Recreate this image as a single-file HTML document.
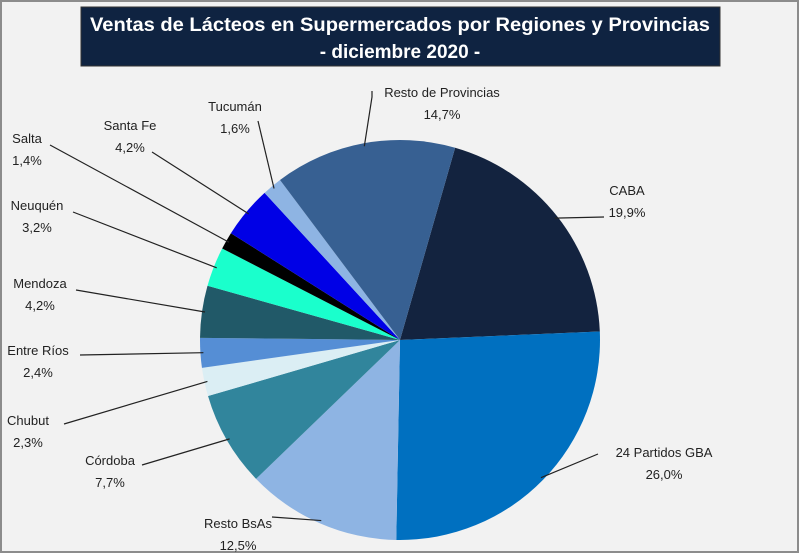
<!DOCTYPE html>
<html><head><meta charset="utf-8"><style>
body{margin:0;background:#fff}
svg{display:block;font-family:"Liberation Sans",Arial,sans-serif}
</style></head><body>
<svg id="c" width="800" height="554" viewBox="0 0 800 554">
<rect x="1" y="1" width="797" height="551" fill="#f2f2f2" stroke="#8c8c8c" stroke-width="2"/>
<rect x="81" y="7" width="639" height="59" fill="#0f2341" stroke="#333"/>
<text x="400" y="31" fill="#fff" font-size="19" font-weight="bold" text-anchor="middle" textLength="620" lengthAdjust="spacingAndGlyphs">Ventas de Lácteos en Supermercados por Regiones y Provincias</text>
<text x="400" y="58" fill="#fff" font-size="19" font-weight="bold" text-anchor="middle">- diciembre 2020 -</text>
<g id="slices"></g><g id="labels"></g>
</svg>
<script>
const categories=["CABA","24 Partidos GBA","Resto BsAs","Córdoba","Chubut","Entre Ríos","Mendoza","Neuquén","Salta","Santa Fe","Tucumán","Resto de Provincias"];
const values=[19.9,26.0,12.5,7.7,2.3,2.4,4.2,3.2,1.4,4.2,1.6,14.7];
const valueLabels=["19,9%","26,0%","12,5%","7,7%","2,3%","2,4%","4,2%","3,2%","1,4%","4,2%","1,6%","14,7%"];
const colors=["#13233f","#0070c0","#8eb4e3","#31859c","#dbeef4","#558ed5","#215968","#1affcc","#000000","#0000e6","#8eb4e3","#376092"];
// label layout: [text center x, first line baseline y, leader end x, leader end y]
const labelPos=[[627,195,604,217],[664,457,598,454],[238,528,272,517],[110,465,142,465],[28,425,64,424],[38,355,80,355],[40,288,76,290],[37,210,73,212],[27,143,50,145],[130,130,152,152],[235,111,258,121],[442,97,372,97]];
const cx=400,cy=340,R=200,start=16;
const ns="http://www.w3.org/2000/svg";
const total=values.reduce((a,b)=>a+b,0);
function pt(deg,r){const a=(deg-90)*Math.PI/180;return [cx+r*Math.cos(a),cy+r*Math.sin(a)];}
const gS=document.getElementById('slices'),gL=document.getElementById('labels');
let acc=start;
values.forEach((v,i)=>{
  const sweep=v/total*360,a0=acc,a1=acc+sweep;acc=a1;
  const p0=pt(a0,R),p1=pt(a1,R);
  const p=document.createElementNS(ns,'path');
  p.setAttribute('d',`M${cx},${cy}L${p0[0]},${p0[1]}A${R},${R} 0 ${sweep>180?1:0} 1 ${p1[0]},${p1[1]}Z`);
  p.setAttribute('fill',colors[i]);
  
  
  gS.appendChild(p);
  const lp=labelPos[i],m=pt((a0+a1)/2,R*0.985);
  const l=document.createElementNS(ns,'polyline');
  const lx=lp[2]<cx?lp[2]+0:lp[2];
  l.setAttribute('points',`${m[0]},${m[1]} ${lx},${lp[3]}`+(i===11?` ${lx},${lp[3]-6}`:''));
  l.setAttribute('fill','none');l.setAttribute('stroke','#222');l.setAttribute('stroke-width','1.2');
  
  
  gL.appendChild(l);
  [categories[i],valueLabels[i]].forEach((s,k)=>{
    const t=document.createElementNS(ns,'text');
    t.setAttribute('x',lp[0]);t.setAttribute('y',lp[1]+k*22);
    t.setAttribute('text-anchor','middle');t.setAttribute('font-size','13');t.setAttribute('fill','#222');
    t.textContent=s;
    
    
    gL.appendChild(t);
  });
});
</script>
</body></html>
